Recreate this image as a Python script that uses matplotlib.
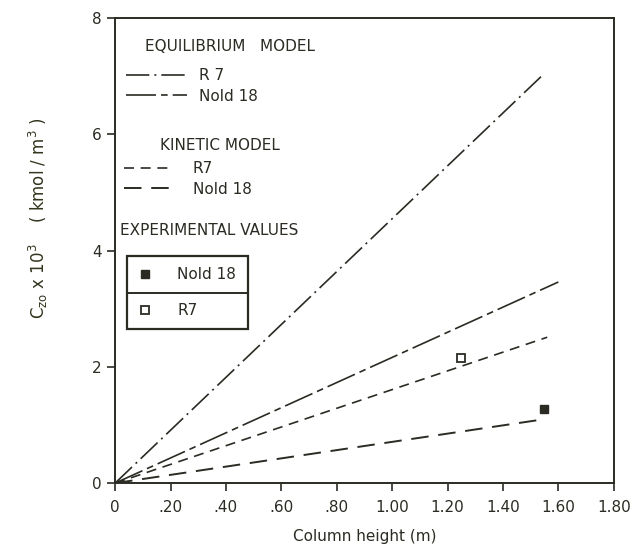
import matplotlib
matplotlib.use("Agg")
import matplotlib.pyplot as plt
from matplotlib.lines import Line2D

# === Data ===
# Equilibrium model (straight lines from origin)
eq_r7_x = [0.0, 1.55]
eq_r7_y = [0.0, 7.05]
eq_nold_x = [0.0, 1.60]
eq_nold_y = [0.0, 3.46]

# Kinetic model
kin_r7_x = [0.0, 1.56]
kin_r7_y = [0.0, 2.51]
kin_nold_x = [0.0, 1.55]
kin_nold_y = [0.0, 1.10]

# Experimental values
exp_nold_x = [1.55]
exp_nold_y = [1.27]
exp_r7_x = [1.25]
exp_r7_y = [2.15]

x_ticks = [0, 0.2, 0.4, 0.6, 0.8, 1.0, 1.2, 1.4, 1.6, 1.8]
x_labels = ['0', '.20', '.40', '.60', '.80', '1.00', '1.20', '1.40', '1.60', '1.80']
y_ticks = [0, 2, 4, 6, 8]
y_labels = ['0', '2', '4', '6', '8']

INK = '#2b2b24'
FS = 11

# line styles
sty_eq_r7 = (0, (14, 3, 1.2, 3))
sty_eq_nold = (0, (18, 3, 4, 3))
sty_kin_r7 = (0, (6, 4))
sty_kin_nold = (0, (9, 5))

fig = plt.figure(figsize=(6.36, 5.49), dpi=100)
ax = fig.add_axes([0.181, 0.120, 0.784, 0.847])

l_eq_r7, = ax.plot(eq_r7_x, eq_r7_y, color=INK, lw=1.2, linestyle=sty_eq_r7)
l_eq_nold, = ax.plot(eq_nold_x, eq_nold_y, color=INK, lw=1.2, linestyle=sty_eq_nold)
l_kin_r7, = ax.plot(kin_r7_x, kin_r7_y, color=INK, lw=1.2, linestyle=sty_kin_r7)
l_kin_nold, = ax.plot(kin_nold_x, kin_nold_y, color=INK, lw=1.4, linestyle=sty_kin_nold)
p_nold, = ax.plot(exp_nold_x, exp_nold_y, 's', color=INK, ms=6, mec=INK)
p_r7, = ax.plot(exp_r7_x, exp_r7_y, 's', mfc='white', mec=INK, mew=1.3, ms=6)

ax.set_xlim(0, 1.8)
ax.set_ylim(0, 8)
ax.set_xticks(x_ticks)
ax.set_xticklabels(x_labels)
ax.set_yticks(y_ticks)
ax.set_yticklabels(y_labels)
ax.tick_params(axis='both', colors=INK, labelsize=FS, width=1.2, length=6, direction='out')
ax.tick_params(axis='x', pad=6)
for s in ax.spines.values():
    s.set_color(INK)
    s.set_linewidth(1.4)

ax.set_xlabel('Column height (m)', fontsize=FS, color=INK, labelpad=10)
ax.set_ylabel(r'C$_{\mathrm{zo}}$ x 10$^{3}$    ( kmol / m$^{3}$ )', fontsize=12,
              color='#33361f')
ax.yaxis.set_label_coords(-0.13, 0.57)

# === Legend blocks ===
ax.text(0.060, 0.940, 'EQUILIBRIUM   MODEL', transform=ax.transAxes, fontsize=FS,
        color=INK, va='center', ha='left')
leg1 = ax.legend([l_eq_r7, l_eq_nold], ['R 7', 'Nold 18'], loc='upper left',
                 bbox_to_anchor=(0.022, 0.892), frameon=False, fontsize=FS,
                 handlelength=4.0, handletextpad=0.8, labelspacing=0.35,
                 borderpad=0, borderaxespad=0, labelcolor=INK)
ax.add_artist(leg1)

ax.text(0.090, 0.727, 'KINETIC MODEL', transform=ax.transAxes, fontsize=FS,
        color=INK, va='center', ha='left')
leg2 = ax.legend([l_kin_r7, l_kin_nold], ['R7', 'Nold 18'], loc='upper left',
                 bbox_to_anchor=(0.018, 0.692), frameon=False, fontsize=FS,
                 handlelength=3.2, handletextpad=1.3, labelspacing=0.35,
                 borderpad=0, borderaxespad=0, labelcolor=INK)
ax.add_artist(leg2)

ax.text(0.010, 0.544, 'EXPERIMENTAL VALUES', transform=ax.transAxes, fontsize=FS,
        color=INK, va='center', ha='left')
leg3 = ax.legend([p_nold, p_r7], ['Nold 18', 'R7'], loc='upper left',
                 bbox_to_anchor=(0.024, 0.331, 0.243, 0.157), mode='expand',
                 frameon=True, fancybox=False, framealpha=1, fontsize=FS,
                 handlelength=1.0, handletextpad=1.6, labelspacing=1.4,
                 borderpad=0.7, borderaxespad=0, labelcolor=INK)
leg3.get_frame().set_edgecolor(INK)
leg3.get_frame().set_linewidth(1.6)
leg3.set_zorder(5)

# divider between the two experimental entries
fig.canvas.draw()
bb = leg3.get_window_extent().transformed(ax.transAxes.inverted())
ymid = 0.5 * (bb.y0 + bb.y1)
ax.add_line(Line2D([bb.x0, bb.x1], [ymid, ymid], transform=ax.transAxes,
                   color=INK, lw=1.4, zorder=10))

fig.savefig('out.png', dpi=100)
